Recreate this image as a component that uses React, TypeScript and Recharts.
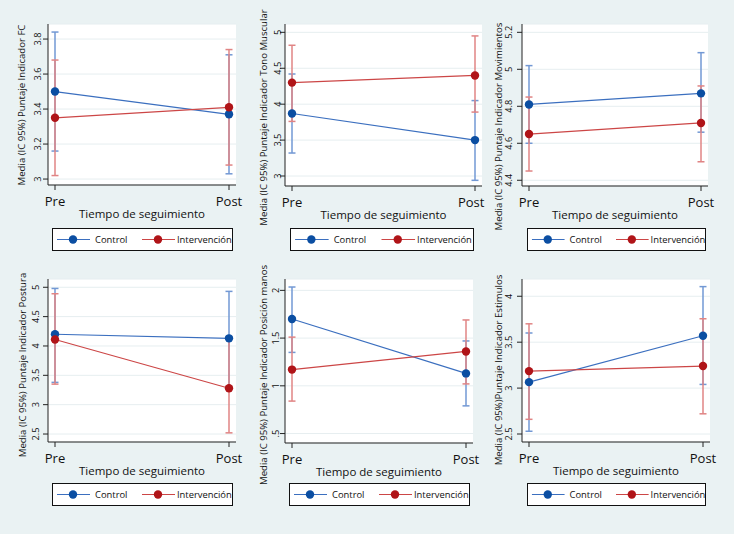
import React from 'react';
import { LineChart, Line, XAxis, YAxis, CartesianGrid, ErrorBar } from 'recharts';

// ---------- data ----------
const categories = ['Pre', 'Post'];
const seriesNames = ['Control', 'Intervención'];
const xTitle = 'Tiempo de seguimiento';

const fcTitle = 'Media (IC 95%) Puntaje Indicador FC';
const fcControl = [3.5, 3.37];
const fcControlLo = [3.16, 3.03];
const fcControlHi = [3.84, 3.71];
const fcInterv = [3.35, 3.41];
const fcIntervLo = [3.02, 3.08];
const fcIntervHi = [3.68, 3.74];
const fcTicks = [3, 3.2, 3.4, 3.6, 3.8];

const tonoTitle = 'Media (IC 95%) Puntaje Indicador Tono Muscular';
const tonoControl = [3.87, 3.5];
const tonoControlLo = [3.32, 2.94];
const tonoControlHi = [4.42, 4.05];
const tonoInterv = [4.3, 4.4];
const tonoIntervLo = [3.76, 3.89];
const tonoIntervHi = [4.82, 4.95];
const tonoTicks = [3, 3.5, 4, 4.5, 5];

const movTitle = 'Media (IC 95%) Puntaje Indicador Movimientos';
const movControl = [4.81, 4.87];
const movControlLo = [4.6, 4.66];
const movControlHi = [5.02, 5.09];
const movInterv = [4.65, 4.71];
const movIntervLo = [4.45, 4.5];
const movIntervHi = [4.85, 4.91];
const movTicks = [4.4, 4.6, 4.8, 5, 5.2];

const posturaTitle = 'Media (IC 95%) Puntaje Indicador Postura';
const posturaControl = [4.2, 4.13];
const posturaControlLo = [3.38, 3.28];
const posturaControlHi = [4.98, 4.93];
const posturaInterv = [4.11, 3.28];
const posturaIntervLo = [3.35, 2.52];
const posturaIntervHi = [4.89, 4.13];
const posturaTicks = [2.5, 3, 3.5, 4, 4.5, 5];

const manosTitle = 'Media (IC 95%) Puntaje Indicador Posición manos';
const manosControl = [1.7, 1.13];
const manosControlLo = [1.35, 0.79];
const manosControlHi = [2.035, 1.47];
const manosInterv = [1.17, 1.36];
const manosIntervLo = [0.84, 1.02];
const manosIntervHi = [1.51, 1.69];
const manosTicks = [0.5, 1, 1.5, 2];

const estTitle = 'Media (IC 95%)Puntaje Indicador Estimulos';
const estControl = [3.065, 3.57];
const estControlLo = [2.53, 3.04];
const estControlHi = [3.6, 4.105];
const estInterv = [3.185, 3.24];
const estIntervLo = [2.66, 2.72];
const estIntervHi = [3.7, 3.755];
const estTicks = [2.5, 3, 3.5, 4];

// ---------- styles ----------
const BG = '#eaf2f3';
const FONT = '"Open Sans", "DejaVu Sans", sans-serif';
const lineColors = ['#3b6fbf', '#cc4646'];
const markerColors = ['#0b4ea2', '#b01418'];
const ciColors = ['#7298d4', '#e08484'];

type Cell = { x: number; y: number; w: number; h: number };
type Plot = { x0: number; x1: number; y0: number; y1: number };
type Layout = {
  cell: Cell;
  plot: Plot;
  domain: [number, number];
  titleX: number;
  titleY: number;
  tickDx: number;
  legend: { x: number; y: number; w: number };
};

type PanelData = {
  title: string;
  control: number[];
  controlLo: number[];
  controlHi: number[];
  interv: number[];
  intervLo: number[];
  intervHi: number[];
  ticks: number[];
};

const panels: PanelData[] = [
  { title: fcTitle, control: fcControl, controlLo: fcControlLo, controlHi: fcControlHi, interv: fcInterv, intervLo: fcIntervLo, intervHi: fcIntervHi, ticks: fcTicks },
  { title: tonoTitle, control: tonoControl, controlLo: tonoControlLo, controlHi: tonoControlHi, interv: tonoInterv, intervLo: tonoIntervLo, intervHi: tonoIntervHi, ticks: tonoTicks },
  { title: movTitle, control: movControl, controlLo: movControlLo, controlHi: movControlHi, interv: movInterv, intervLo: movIntervLo, intervHi: movIntervHi, ticks: movTicks },
  { title: posturaTitle, control: posturaControl, controlLo: posturaControlLo, controlHi: posturaControlHi, interv: posturaInterv, intervLo: posturaIntervLo, intervHi: posturaIntervHi, ticks: posturaTicks },
  { title: manosTitle, control: manosControl, controlLo: manosControlLo, controlHi: manosControlHi, interv: manosInterv, intervLo: manosIntervLo, intervHi: manosIntervHi, ticks: manosTicks },
  { title: estTitle, control: estControl, controlLo: estControlLo, controlHi: estControlHi, interv: estInterv, intervLo: estIntervLo, intervHi: estIntervHi, ticks: estTicks },
];

const layouts: Layout[] = [
  { cell: { x: 0, y: 0, w: 245, h: 262 }, plot: { x0: 48, x1: 236, y0: 24, y1: 185 }, domain: [2.966, 3.886], titleX: 21, titleY: 105, tickDx: 10.5, legend: { x: 52, y: 228, w: 180 } },
  { cell: { x: 245, y: 0, w: 240, h: 262 }, plot: { x0: 285, x1: 482, y0: 24, y1: 186 }, domain: [2.861, 5.116], titleX: 263, titleY: 117.5, tickDx: 7, legend: { x: 290, y: 228, w: 183 } },
  { cell: { x: 485, y: 0, w: 249, h: 262 }, plot: { x0: 522, x1: 708, y0: 24, y1: 186 }, domain: [4.369, 5.245], titleX: 498, titleY: 126.5, tickDx: 13.5, legend: { x: 527, y: 228, w: 178 } },
  { cell: { x: 0, y: 262, w: 245, h: 272 }, plot: { x0: 48, x1: 236, y0: 279, y1: 442 }, domain: [2.364, 5.141], titleX: 22, titleY: 365, tickDx: 12, legend: { x: 52, y: 483, w: 180 } },
  { cell: { x: 245, y: 262, w: 240, h: 272 }, plot: { x0: 285, x1: 473, y0: 279, y1: 443 }, domain: [0.401, 2.119], titleX: 263, titleY: 375, tickDx: 9.5, legend: { x: 289, y: 483, w: 180 } },
  { cell: { x: 485, y: 262, w: 249, h: 272 }, plot: { x0: 522, x1: 710, y0: 279, y1: 442 }, domain: [2.413, 4.188], titleX: 498, titleY: 370, tickDx: 13.5, legend: { x: 527, y: 483, w: 178 } },
];

const fmtTick = (v: number) => {
  const s = String(v);
  return s.startsWith('0.') ? s.slice(1) : s;
};

function Panel({ data, layout }: { data: PanelData; layout: Layout }) {
  const { cell, plot } = layout;
  const rows = categories.map((t, i) => ({
    t,
    c: data.control[i],
    i: data.interv[i],
    cErr: [data.control[i] - data.controlLo[i], data.controlHi[i] - data.control[i]],
    iErr: [data.interv[i] - data.intervLo[i], data.intervHi[i] - data.interv[i]],
  }));
  const plotBottom = plot.y1 - cell.y;
  const plotCenterX = (plot.x0 + plot.x1) / 2 - cell.x;
  const yAxisW = plot.x0 - cell.x;
  const xAxisH = cell.y + cell.h - plot.y1;

  return (
    <div style={{ position: 'absolute', left: cell.x, top: cell.y, width: cell.w, height: cell.h }}>
      <LineChart
        width={cell.w}
        height={cell.h}
        data={rows}
        margin={{ top: plot.y0 - cell.y, right: cell.x + cell.w - plot.x1, bottom: 0, left: 0 }}
      >
        <CartesianGrid vertical={false} horizontal={true} fill="#ffffff" stroke="#e6eef0" strokeWidth={1} />
        <XAxis
          dataKey="t"
          type="category"
          scale="point"
          padding={{ left: 7, right: 7 }}
          height={xAxisH}
          axisLine={{ stroke: '#222', strokeWidth: 1 }}
          tickLine={{ stroke: '#222', strokeWidth: 1 }}
          tickSize={5}
          tick={(p: any) => (
            <text
              x={p.x}
              y={plotBottom + 16}
              textAnchor="middle"
              dominantBaseline="central"
              fontFamily={FONT}
              fontSize={13}
              fill="#111"
            >
              {p.payload.value}
            </text>
          )}
          label={{
            content: () => (
              <text
                x={plotCenterX}
                y={plotBottom + 28}
                textAnchor="middle"
                dominantBaseline="central"
                fontFamily={FONT}
                fontSize={11.5}
                fill="#111"
              >
                {xTitle}
              </text>
            ),
          }}
        />
        <YAxis
          type="number"
          domain={layout.domain}
          ticks={data.ticks}
          allowDataOverflow
          width={yAxisW}
          axisLine={{ stroke: '#222', strokeWidth: 1 }}
          tickLine={{ stroke: '#222', strokeWidth: 1 }}
          tickSize={5}
          tick={(p: any) => {
            const x = yAxisW - layout.tickDx;
            return (
              <text
                x={x}
                y={p.y}
                transform={`rotate(-90 ${x} ${p.y})`}
                textAnchor="middle"
                dominantBaseline="central"
                fontFamily={FONT}
                fontSize={9.2}
                fill="#111"
              >
                {fmtTick(p.payload.value)}
              </text>
            );
          }}
          label={{
            content: () => {
              const x = layout.titleX - cell.x;
              const y = layout.titleY - cell.y;
              return (
                <text
                  x={x}
                  y={y}
                  transform={`rotate(-90 ${x} ${y})`}
                  textAnchor="middle"
                  dominantBaseline="central"
                  fontFamily={FONT}
                  fontSize={9.6}
                  fill="#111"
                >
                  {data.title}
                </text>
              );
            },
          }}
        />
        <Line dataKey="c" stroke="none" dot={false} activeDot={false} isAnimationActive={false} legendType="none">
          <ErrorBar dataKey="cErr" width={3.5} stroke={ciColors[0]} strokeWidth={1.5} direction="y" />
        </Line>
        <Line dataKey="i" stroke="none" dot={false} activeDot={false} isAnimationActive={false} legendType="none">
          <ErrorBar dataKey="iErr" width={3.5} stroke={ciColors[1]} strokeWidth={1.5} direction="y" />
        </Line>
        <Line
          dataKey="c"
          name={seriesNames[0]}
          type="linear"
          stroke={lineColors[0]}
          strokeWidth={1.2}
          dot={{ r: 4.2, fill: markerColors[0], stroke: 'none' }}
          activeDot={false}
          isAnimationActive={false}
        />
        <Line
          dataKey="i"
          name={seriesNames[1]}
          type="linear"
          stroke={lineColors[1]}
          strokeWidth={1.2}
          dot={{ r: 4.2, fill: markerColors[1], stroke: 'none' }}
          activeDot={false}
          isAnimationActive={false}
        />
      </LineChart>
    </div>
  );
}

function LegendBox({ x, y, w }: { x: number; y: number; w: number }) {
  const h = 22;
  const k = w / 180;
  const items = [
    { l0: 5, l1: 38, dot: 21, tx: 43 },
    { l0: 90, l1: 123, dot: 106, tx: 125 },
  ];
  return (
    <svg style={{ position: 'absolute', left: x, top: y }} width={w + 1} height={h + 1}>
      <rect x={0.5} y={0.5} width={w} height={h} fill="#ffffff" stroke="#111" strokeWidth={1} />
      {items.map((it, idx) => (
        <g key={idx}>
          <line x1={it.l0 * k} x2={it.l1 * k} y1={11.5} y2={11.5} stroke={lineColors[idx]} strokeWidth={1.2} />
          <circle cx={it.dot * k} cy={11.5} r={4.2} fill={markerColors[idx]} />
          <text x={it.tx * k} y={11.5} dominantBaseline="central" fontFamily={FONT} fontSize={9.4} fill="#111">
            {seriesNames[idx]}
          </text>
        </g>
      ))}
    </svg>
  );
}

export default function App() {
  return (
    <div style={{ position: 'absolute', left: 0, top: 0, width: 734, height: 534, background: BG, overflow: 'hidden' }}>
      {panels.map((p, i) => (
        <Panel key={i} data={p} layout={layouts[i]} />
      ))}
      {layouts.map((l, i) => (
        <LegendBox key={i} x={l.legend.x} y={l.legend.y} w={l.legend.w} />
      ))}
    </div>
  );
}
